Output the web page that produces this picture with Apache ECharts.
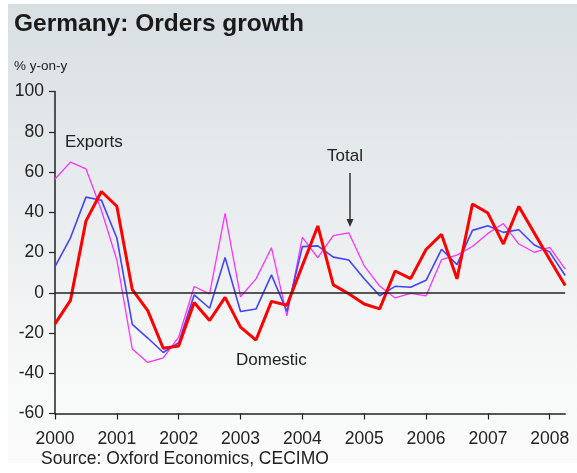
<!DOCTYPE html>
<html>
<head>
<meta charset="utf-8">
<script src="https://cdn.jsdelivr.net/npm/echarts@6/dist/echarts.min.js"></script>
<style>
  html, body { margin: 0; padding: 0; background: #ffffff; }
  #wrap { position: relative; width: 577px; height: 473px; overflow: hidden; }
  #bg { position: absolute; left: 8px; top: 4px; width: 569px; height: 459px;
        background: linear-gradient(to bottom, #d8dfe2 0%, #e9edef 45%, #f7f8f8 80%, #fbfbfb 100%); }
  #chart { position: absolute; left: 0; top: 0; width: 577px; height: 473px; }
</style>
</head>
<body>
<div id="wrap"><div id="bg"></div><div id="chart"></div></div>
<script>
// Quarterly categories 2000Q1 .. 2008Q2
const quarters = [
  "2000Q1","2000Q2","2000Q3","2000Q4",
  "2001Q1","2001Q2","2001Q3","2001Q4",
  "2002Q1","2002Q2","2002Q3","2002Q4",
  "2003Q1","2003Q2","2003Q3","2003Q4",
  "2004Q1","2004Q2","2004Q3","2004Q4",
  "2005Q1","2005Q2","2005Q3","2005Q4",
  "2006Q1","2006Q2","2006Q3","2006Q4",
  "2007Q1","2007Q2","2007Q3","2007Q4",
  "2008Q1","2008Q2"
];
// red, thick
const domestic = [
  -15.5, -3.8, 35.6, 50.3, 43.0, 1.5, -8.9, -27.6,
  -26.5, -4.8, -13.8, -2.3, -17.1, -23.5, -4.3, -6.2,
  13.5, 33.2, 3.9, -0.5, -5.6, -8.0, 10.8, 7.0,
  21.5, 29.0, 6.9, 44.1, 39.6, 24.2, 42.9, 29.7,
  16.5, 3.6
];
// blue
const total = [
  13.0, 27.3, 47.5, 46.0, 27.2, -15.7, -22.5, -29.7,
  -24.8, -1.1, -7.7, 17.5, -9.3, -8.1, 8.9, -9.3,
  22.9, 23.3, 17.7, 16.3, 7.0, -1.5, 3.2, 2.7,
  6.2, 21.6, 14.0, 31.0, 33.3, 30.0, 31.3, 23.7,
  20.2, 8.6
];
// magenta
const exportsData = [
  56.5, 64.9, 61.6, 41.0, 16.3, -28.0, -34.6, -32.4,
  -22.0, 3.1, -0.6, 39.4, -2.0, 6.9, 22.4, -11.5,
  27.5, 17.4, 28.4, 29.8, 13.4, 3.3, -2.6, -0.3,
  -1.5, 16.4, 18.7, 23.0, 29.5, 34.4, 24.2, 20.1,
  22.6, 11.8
];
const yTicks = { min: -60, max: 100, step: 20 };

const FONT = "'Liberation Sans', Arial, sans-serif";
const TXT = '#222222';

const chart = echarts.init(document.getElementById('chart'), null, { renderer: 'canvas' });
const yearTick = (i) => i % 4 === 0;

chart.setOption({
  animation: false,
  grid: { left: 55, right: 11.8, top: 91.5, bottom: 59.5, containLabel: false },
  xAxis: {
    type: 'category',
    data: quarters,
    boundaryGap: false,
    axisLine: { show: true, onZero: false, lineStyle: { color: TXT, width: 1.5 } },
    axisTick: { show: true, interval: yearTick, length: 6, lineStyle: { color: TXT, width: 1.2 } },
    axisLabel: {
      interval: yearTick,
      formatter: (v) => v.slice(0, 4),
      fontSize: 17.5, color: TXT, fontFamily: FONT, margin: 17
    },
    splitLine: { show: false }
  },
  yAxis: {
    type: 'value',
    min: yTicks.min, max: yTicks.max, interval: yTicks.step,
    axisLine: { show: true, lineStyle: { color: TXT, width: 1.5 } },
    axisTick: { show: true, length: 6, lineStyle: { color: TXT, width: 1.2 } },
    axisLabel: { fontSize: 17.5, color: TXT, fontFamily: FONT, margin: 11 },
    splitLine: { show: false }
  },
  series: [
    {
      name: 'Exports', type: 'line', data: exportsData, symbol: 'none',
      lineStyle: { color: '#ff33ff', width: 1.3 }, z: 2,
      markLine: {
        silent: true, symbol: ['none', 'none'], label: { show: false },
        lineStyle: { color: TXT, width: 1.5, type: 'solid' },
        data: [{ yAxis: 0 }]
      }
    },
    {
      name: 'Total', type: 'line', data: total, symbol: 'none',
      lineStyle: { color: '#4444ff', width: 1.6 }, z: 3
    },
    {
      name: 'Domestic', type: 'line', data: domestic, symbol: 'none',
      lineStyle: { color: '#ff0000', width: 3 }, z: 4
    }
  ],
  graphic: [
    { type: 'text', left: 14, top: 12, style: { text: 'Germany: Orders growth', font: "bold 24.5px " + FONT, fill: '#1a1a1a' } },
    { type: 'text', left: 14, top: 59, style: { text: '% y-on-y', font: "13.5px " + FONT, fill: TXT } },
    { type: 'text', left: 65, top: 134, style: { text: 'Exports', font: "17px " + FONT, fill: TXT } },
    { type: 'text', left: 327, top: 148, style: { text: 'Total', font: "17px " + FONT, fill: TXT } },
    { type: 'text', left: 236, top: 352, style: { text: 'Domestic', font: "17px " + FONT, fill: TXT } },
    { type: 'text', left: 41, top: 450, style: { text: 'Source: Oxford Economics, CECIMO', font: "17.5px " + FONT, fill: TXT } },
    { type: 'line', shape: { x1: 350, y1: 173, x2: 350, y2: 221 }, style: { stroke: '#333', lineWidth: 1.5 }, z: 10 },
    { type: 'polygon', shape: { points: [[346.5, 219], [353.5, 219], [350, 227]] }, style: { fill: '#333' }, z: 10 }
  ]
});
</script>
</body>
</html>
